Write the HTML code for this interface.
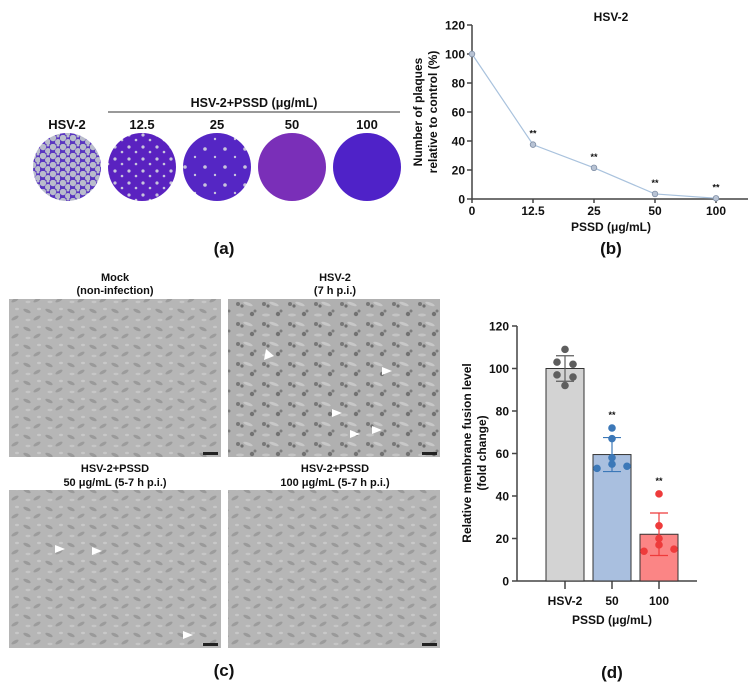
<!DOCTYPE html>
<html><head><meta charset="utf-8">
<style>
body{margin:0;background:#fff;width:752px;height:686px;overflow:hidden;font-family:"Liberation Sans",Arial,sans-serif}
svg text{font-family:"Liberation Sans",Arial,sans-serif;font-weight:bold;fill:#111}
</style></head><body>
<svg id="fig" width="752" height="686" viewBox="0 0 752 686" xmlns="http://www.w3.org/2000/svg">
<defs>
<pattern id="cells" width="22" height="18" patternUnits="userSpaceOnUse">
<rect width="22" height="18" fill="#b6b6b6"/>
<ellipse cx="5" cy="5" rx="4" ry="1.6" fill="#9a9a9a" transform="rotate(25 5 5)"/>
<ellipse cx="15" cy="12" rx="4" ry="1.6" fill="#9c9c9c" transform="rotate(-30 15 12)"/>
<ellipse cx="17" cy="3" rx="2" ry="1.2" fill="#c8c8c8"/>
<ellipse cx="6" cy="14" rx="2.5" ry="1.2" fill="#c6c6c6"/>
</pattern>
<pattern id="cellsInf" width="26" height="20" patternUnits="userSpaceOnUse">
<rect width="26" height="20" fill="#b0b0b0"/>
<circle cx="4" cy="4" r="2" fill="#787878"/><circle cx="8" cy="6" r="1.6" fill="#707070"/>
<circle cx="18" cy="14" r="2.2" fill="#727272"/><circle cx="21" cy="11" r="1.5" fill="#7e7e7e"/>
<ellipse cx="14" cy="4" rx="5" ry="1.5" fill="#c8c8c8" transform="rotate(20 14 4)"/>
<ellipse cx="6" cy="15" rx="4" ry="1.5" fill="#c4c4c4"/>
</pattern>
<pattern id="plaqHeavy" width="10" height="9" patternUnits="userSpaceOnUse">
<rect width="10" height="9" fill="#5a36c0"/>
<circle cx="3" cy="3" r="3.2" fill="#b9bccc"/><circle cx="8" cy="7" r="3" fill="#b9bccc"/><circle cx="8" cy="1" r="1.5" fill="#b9bccc"/>
</pattern>
<pattern id="plaq1" width="14" height="12" patternUnits="userSpaceOnUse">
<rect width="14" height="12" fill="#5a22c0"/>
<circle cx="3" cy="3" r="1.6" fill="#c8c4dc"/><circle cx="10" cy="8" r="1.3" fill="#c8c4dc"/>
</pattern>
<pattern id="plaq2" width="20" height="18" patternUnits="userSpaceOnUse">
<rect width="20" height="18" fill="#5526c4"/>
<circle cx="5" cy="5" r="1.8" fill="#c8c4dc"/><circle cx="15" cy="13" r="1.2" fill="#c8c4dc"/>
</pattern>
</defs>

<g>
<text x="67" y="129" font-size="13" text-anchor="middle">HSV-2</text>
<text x="254" y="107" font-size="12.5" text-anchor="middle">HSV-2+PSSD (μg/mL)</text>
<line x1="108" y1="112" x2="400" y2="112" stroke="#333" stroke-width="1"/>
<text x="142" y="129" font-size="13" text-anchor="middle">12.5</text>
<text x="217" y="129" font-size="13" text-anchor="middle">25</text>
<text x="292" y="129" font-size="13" text-anchor="middle">50</text>
<text x="367" y="129" font-size="13" text-anchor="middle">100</text>
<circle cx="67" cy="167" r="34" fill="url(#plaqHeavy)"/>
<circle cx="142" cy="167" r="34" fill="url(#plaq1)"/>
<circle cx="217" cy="167" r="34" fill="url(#plaq2)"/>
<circle cx="292" cy="167" r="34" fill="#7a2fb8"/>
<circle cx="367" cy="167" r="34" fill="#4f22c8"/>
<text x="224" y="254" font-size="17" text-anchor="middle">(a)</text>
</g>

<g id="chartB">
<text x="611" y="21" font-size="12" text-anchor="middle">HSV-2</text>
<text x="611" y="231" font-size="12" text-anchor="middle">PSSD (μg/mL)</text>
<text transform="translate(425,112) rotate(-90)" font-size="12" text-anchor="middle"><tspan x="0" dy="-3">Number of plaques</tspan><tspan x="0" dy="15">relative to control (%)</tspan></text>
<text x="611" y="254" font-size="17" text-anchor="middle">(b)</text>
</g>

<g>
<text x="115" y="281" font-size="11" text-anchor="middle">Mock</text>
<text x="115" y="294" font-size="11" text-anchor="middle">(non-infection)</text>
<text x="335" y="281" font-size="11" text-anchor="middle">HSV-2</text>
<text x="335" y="294" font-size="11" text-anchor="middle">(7 h p.i.)</text>
<rect x="9" y="299" width="212" height="158" fill="url(#cells)"/>
<rect x="228" y="299" width="212" height="158" fill="url(#cellsInf)"/>
<text x="115" y="472" font-size="11" text-anchor="middle">HSV-2+PSSD</text>
<text x="115" y="486" font-size="11" text-anchor="middle">50 μg/mL (5-7 h p.i.)</text>
<text x="335" y="472" font-size="11" text-anchor="middle">HSV-2+PSSD</text>
<text x="335" y="486" font-size="11" text-anchor="middle">100 μg/mL (5-7 h p.i.)</text>
<rect x="9" y="490" width="212" height="158" fill="url(#cells)"/>
<rect x="228" y="490" width="212" height="158" fill="url(#cells)"/>
<g fill="#fff">
<polygon points="382,367 392,371 382,375"/><polygon points="332,409 342,413 332,417"/><polygon points="372,426 382,430 372,434"/><polygon points="266,349 274,356 264,360"/><polygon points="350,430 360,434 350,438"/>
<polygon points="55,545 65,549 55,553"/><polygon points="92,547 102,551 92,555"/><polygon points="183,631 193,635 183,639"/>
</g>
<g fill="#222"><rect x="203" y="452" width="15" height="3"/><rect x="422" y="452" width="15" height="3"/><rect x="203" y="643" width="15" height="3"/><rect x="422" y="643" width="15" height="3"/></g>
<text x="224" y="676" font-size="17" text-anchor="middle">(c)</text>
</g>

<g id="chartD">
<text transform="translate(474,453) rotate(-90)" font-size="12" text-anchor="middle"><tspan x="0" dy="-3">Relative membrane fusion level</tspan><tspan x="0" dy="15">(fold change)</tspan></text>
<text x="612" y="624" font-size="12" text-anchor="middle">PSSD (μg/mL)</text>
<text x="612" y="678" font-size="17" text-anchor="middle">(d)</text>
</g>
</svg>
<script>
const NS='http://www.w3.org/2000/svg';
const bCategories=['0','12.5','25','50','100'];
const bValues=[100,37.5,21.5,3.5,0.5];
const bSig=['','**','**','**','**'];
const bYTicks=[0,20,40,60,80,100,120];
const dCategories=['HSV-2','50','100'];
const dMeans=[100,59.5,22];
const dSD=[6,8,10];
const dPoints=[[109,103,102,97,96,92],[72,67,58,55,54,53],[41,26,20,17,15,14]];
const dSig=['','**','**'];
const dYTicks=[0,20,40,60,80,100,120];

function mk(parent,tag,attrs,txt){const e=document.createElementNS(NS,tag);for(const k in attrs)e.setAttribute(k,attrs[k]);if(txt!==undefined)e.textContent=txt;parent.appendChild(e);return e;}

(function(){
const g=document.getElementById('chartB');
const x0=472,xEnd=748,y0=199,yTop=25;
const yS=v=>y0-(v/120)*(y0-yTop);
const xS=i=>x0+i*61;
let ax=mk(g,'line',{x1:x0,y1:yTop,x2:x0,y2:y0,stroke:'#444','stroke-width':1.5});

ax=mk(g,'line',{x1:x0,y1:y0,x2:xEnd,y2:y0,stroke:'#444','stroke-width':1.5});

bYTicks.forEach(t=>{mk(g,'line',{x1:x0-5,y1:yS(t),x2:x0,y2:yS(t),stroke:'#444','stroke-width':1.5});
const tl=mk(g,'text',{x:x0-7,y:yS(t)+4.5,'font-size':12,'text-anchor':'end'},t);
});
bCategories.forEach((c,i)=>{mk(g,'line',{x1:xS(i),y1:y0,x2:xS(i),y2:y0+4,stroke:'#444','stroke-width':1.5});
const tl=mk(g,'text',{x:xS(i),y:y0+16,'font-size':12,'text-anchor':'middle'},c);
});
const ln=mk(g,'polyline',{points:bValues.map((v,i)=>xS(i)+','+yS(v)).join(' '),fill:'none',stroke:'#a9c2dd','stroke-width':1.2});

bValues.forEach((v,i)=>{const p=mk(g,'circle',{cx:xS(i),cy:yS(v),r:2.8,fill:'#b8c3d4',stroke:'#7f8ea5','stroke-width':0.8});

if(bSig[i]){const s=mk(g,'text',{x:xS(i),y:yS(v)-8,'font-size':9,'font-weight':'normal','text-anchor':'middle'},bSig[i]);
}});
})();

(function(){
const g=document.getElementById('chartD');
const x0=517,xEnd=697,y0=581,yTop=326;
const yS=v=>y0-(v/120)*(y0-yTop);
const cx=[565,612,659];
const fills=['#d3d3d3','#a9bfdf','#fb8585'];
const dots=['#5e5e5e','#3c78b8','#ee3b3b'];
let ax=mk(g,'line',{x1:x0,y1:yTop,x2:x0,y2:y0,stroke:'#444','stroke-width':1.5});

ax=mk(g,'line',{x1:x0,y1:y0,x2:xEnd,y2:y0,stroke:'#444','stroke-width':1.5});

dYTicks.forEach(t=>{mk(g,'line',{x1:x0-5,y1:yS(t),x2:x0,y2:yS(t),stroke:'#444','stroke-width':1.5});
const tl=mk(g,'text',{x:x0-8,y:yS(t)+4.5,'font-size':12,'text-anchor':'end'},t);
});
dCategories.forEach((c,i)=>{
const x=cx[i];
mk(g,'line',{x1:x,y1:y0,x2:x,y2:y0+8,stroke:'#444','stroke-width':1.5});
const tl=mk(g,'text',{x:x,y:y0+24,'font-size':12,'text-anchor':'middle'},c);

const b=mk(g,'rect',{x:x-19,y:yS(dMeans[i]),width:38,height:y0-yS(dMeans[i]),fill:fills[i],stroke:'#333','stroke-width':1});

const hi=yS(dMeans[i]+dSD[i]),lo=yS(dMeans[i]-dSD[i]);
const eb=mk(g,'path',{d:`M${x},${hi}V${lo}M${x-9},${hi}H${x+9}M${x-9},${lo}H${x+9}`,stroke:dots[i],'stroke-width':1.2,fill:'none'});

dPoints[i].forEach((v,j)=>{const o=(i===0)?[0,-8,8,-8,8,0][j]:[0,0,0,0,15,-15][j];
const p=mk(g,'circle',{cx:x+o,cy:yS(v),r:3.8,fill:dots[i]});
});
if(dSig[i]){const top=Math.max(dMeans[i]+dSD[i],...dPoints[i]);
const s=mk(g,'text',{x:x,y:yS(top)-10,'font-size':9,'font-weight':'normal','text-anchor':'middle'},dSig[i]);
}
});
})();
</script>
</body></html>
